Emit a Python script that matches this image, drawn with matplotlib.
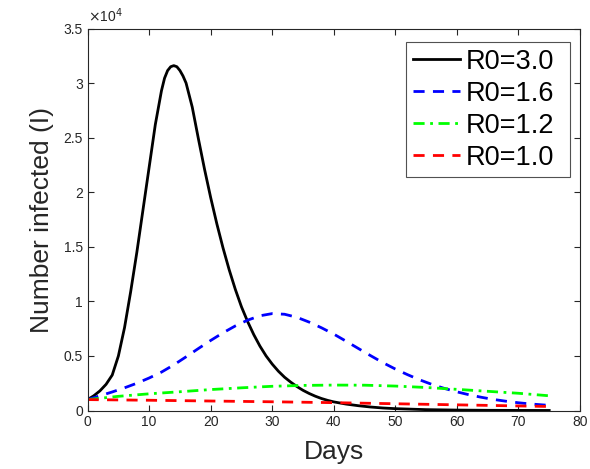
import matplotlib
matplotlib.use("Agg")
import matplotlib.pyplot as plt
from matplotlib.ticker import FuncFormatter

plt.rcParams['font.family'] = ['Liberation Sans', 'DejaVu Sans']

# Data (days, number infected)
days_r30 = [0, 1, 2, 3, 4, 5, 6, 7, 8, 9, 10, 11, 12, 12.5, 13, 13.5, 14, 14.5, 15,
            15.5, 16, 17, 18, 19, 20, 21, 22, 23, 24, 25, 26, 27, 28, 29, 30, 31,
            32, 33, 34, 35, 36, 37, 38, 39, 40, 42, 44, 46, 48, 50, 55, 60, 65, 70, 75]
inf_r30 = [1000, 1350, 1800, 2400, 3250, 5000, 7600, 10900, 14500, 18400, 22300,
           26200, 29300, 30450, 31150, 31500, 31600, 31500, 31150,
           30650, 30000, 27800, 24900, 22100, 19500, 17100, 14900, 12900, 11100,
           9500, 8150, 6950, 5900, 5000, 4250, 3600,
           3050, 2600, 2200, 1850, 1560, 1310, 1100, 930, 790, 590, 440, 320, 230,
           170, 80, 40, 20, 10, 5]

days_r16 = [0, 2, 4, 6, 8, 10, 12, 14, 16, 18, 20, 22, 24, 26, 28, 30, 32, 34, 36,
            38, 40, 42, 44, 46, 48, 50, 52, 54, 56, 58, 60, 62, 64, 66, 68, 70, 72, 75]
inf_r16 = [1000, 1350, 1700, 2080, 2500, 2980, 3520, 4180, 4920, 5680, 6420, 7120,
           7750, 8280, 8680, 8880, 8820, 8540, 8100, 7580, 7000, 6350, 5680, 5020,
           4380, 3800, 3280, 2800, 2380, 2020, 1710, 1440, 1210, 1010, 850, 710,
           600, 470]

days_r12 = [0, 5, 10, 15, 20, 25, 30, 35, 40, 45, 50, 55, 60, 65, 70, 75]
inf_r12 = [1000, 1300, 1530, 1720, 1920, 2080, 2220, 2300, 2330, 2320, 2240, 2110,
           1940, 1760, 1580, 1350]

days_r10 = [0, 10, 20, 30, 40, 50, 60, 70, 75]
inf_r10 = [1000, 940, 870, 800, 720, 620, 520, 420, 370]

labels = ['R0=3.0', 'R0=1.6', 'R0=1.2', 'R0=1.0']
x_ticks = [0, 10, 20, 30, 40, 50, 60, 70, 80]
y_ticks = [0, 5000, 10000, 15000, 20000, 25000, 30000, 35000]

axcol = (0.15, 0.15, 0.15)

fig = plt.figure(figsize=(5.9, 4.69), dpi=100)
ax = fig.add_axes([0.1485, 0.1247, 0.8345, 0.8145])

ax.plot(days_r30, inf_r30, color='black', lw=2, ls='-', label=labels[0])
ax.plot(days_r16, inf_r16, color='blue', lw=2, ls=(0, (4, 3)), label=labels[1])
ax.plot(days_r12, inf_r12, color=(0, 1, 0), lw=2, ls=(0, (4, 2, 1, 2)), label=labels[2])
ax.plot(days_r10, inf_r10, color='red', lw=2, ls=(0, (4, 3)), label=labels[3])

ax.set_xlim(0, 80)
ax.set_ylim(0, 35000)
ax.set_xticks(x_ticks)
ax.set_yticks(y_ticks)
ax.yaxis.set_major_formatter(FuncFormatter(lambda v, p: '%g' % (v / 1e4)))
ax.text(0.0, 1.008, r'$\times$10$^{4}$', transform=ax.transAxes, fontsize=10,
        color=axcol, ha='left', va='bottom')

ax.tick_params(direction='in', top=True, right=True, labelsize=10,
               colors=axcol, length=4, width=0.8)
for s in ax.spines.values():
    s.set_color(axcol)
    s.set_linewidth(0.8)

ax.set_xlabel('Days', fontsize=19, color=axcol, labelpad=8)
ax.set_ylabel('Number infected (I)', fontsize=19, color=axcol, labelpad=7)

leg = ax.legend(loc='upper left', bbox_to_anchor=(0.6466, 0.3, 0.3325, 0.6647),
                mode='expand', fontsize=19.5, frameon=True, fancybox=False,
                edgecolor=axcol, handlelength=1.75, handletextpad=0.2,
                borderpad=0.25, labelspacing=0.22, borderaxespad=0.0)
leg.get_frame().set_linewidth(0.8)

fig.savefig('out.png', dpi=100)
